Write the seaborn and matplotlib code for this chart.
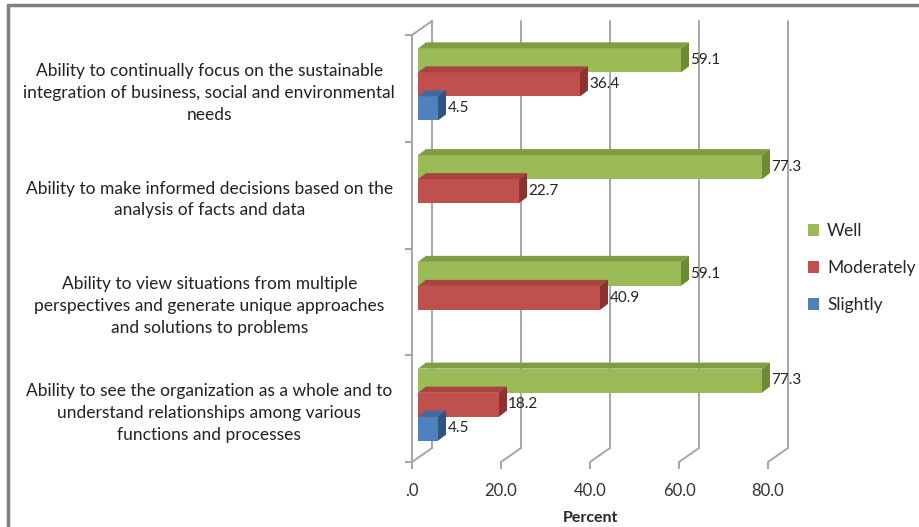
import pandas as pd
import matplotlib.pyplot as plt
import seaborn as sns
from matplotlib.patches import Polygon
from matplotlib.lines import Line2D
import matplotlib.transforms as mtransforms

abilities = [
    "Ability to continually focus on the sustainable\nintegration of business, social and environmental\nneeds",
    "Ability to make informed decisions based on the\nanalysis of facts and data",
    "Ability to view situations from multiple\nperspectives and generate unique approaches\nand solutions to problems",
    "Ability to see the organization as a whole and to\nunderstand relationships among various\nfunctions and processes",
]
levels = ["Well", "Moderately", "Slightly"]
well = [59.1, 77.3, 59.1, 77.3]
moderately = [36.4, 22.7, 40.9, 18.2]
slightly = [4.5, None, None, 4.5]
x_ticks = [0, 20, 40, 60, 80]
x_ticklabels = [".0", "20.0", "40.0", "60.0", "80.0"]

colors = {"Well": "#9BBB59", "Moderately": "#C0504D", "Slightly": "#4F81BD"}
side_colors = {"Well": "#6E8A35", "Moderately": "#8C3331", "Slightly": "#2E5481"}
top_colors = {"Well": "#7F9E44", "Moderately": "#A84340", "Slightly": "#3E6AA0"}

rows = []
for lvl, vals in zip(levels, [well, moderately, slightly]):
    for ab, v in zip(abilities, vals):
        if v is not None:
            rows.append({"ability": ab, "level": lvl, "value": v})
df = pd.DataFrame(rows)

sns.set_style("white")
plt.rcParams["font.family"] = ["Lato", "DejaVu Sans"]

fig = plt.figure(figsize=(9.2, 5.27), dpi=100)
ax = fig.add_axes([412 / 920, 65 / 527, 356 / 920, 427 / 527])

sns.barplot(data=df, y="ability", x="value", hue="level", order=abilities,
            hue_order=levels, palette=colors, orient="h", width=0.675,
            errorbar=None, ax=ax, saturation=1, linewidth=0, zorder=3)

ax.set_xlim(0, 80)
ax.set_ylim(3.5, -0.5)

# pixel -> data scale for the fake 3d effect
px_x = 80 / 356
px_y = 4 / 427

def shift(dx_px, dy_px):
    return mtransforms.ScaledTranslation(dx_px / 100, dy_px / 100, fig.dpi_scale_trans)

# back wall gridlines and floor
back = ax.get_xaxis_transform() + shift(20, 14)
for t in x_ticks:
    ax.plot([t, t], [0, 1], color="#A6A6A6", lw=1.4, transform=back, zorder=1, clip_on=False)
    ax.plot([t, t + 20 * px_x], [3.5, 3.5 - 14 * px_y], color="#A6A6A6", lw=1.4,
            zorder=1, clip_on=False)
ax.plot([0, 20 * px_x], [-0.5, -0.5 - 14 * px_y], color="#A6A6A6", lw=1.4, zorder=1, clip_on=False)

# 3d bars: shift front face and add top and side faces
bdx, bdy = 6, 4
ddx, ddy = 8, 6
for cont, lvl in zip(ax.containers, levels):
    for p in cont.patches:
        p.set_transform(ax.transData + shift(bdx, bdy))
        x0 = p.get_x()
        w = p.get_width()
        y0 = p.get_y()
        h = p.get_height()
        ytop, ybot = y0, y0 + h
        x1 = x0 + w
        ox, oy = bdx * px_x, -bdy * px_y
        dx, dy = ddx * px_x, -ddy * px_y
        top = Polygon([(x0 + ox, ytop + oy), (x1 + ox, ytop + oy),
                       (x1 + ox + dx, ytop + oy + dy), (x0 + ox + dx, ytop + oy + dy)],
                      closed=True, facecolor=top_colors[lvl], edgecolor="none",
                      zorder=3, clip_on=False)
        side = Polygon([(x1 + ox, ytop + oy), (x1 + ox + dx, ytop + oy + dy),
                        (x1 + ox + dx, ybot + oy + dy), (x1 + ox, ybot + oy)],
                       closed=True, facecolor=side_colors[lvl], edgecolor="none",
                       zorder=3, clip_on=False)
        ax.add_patch(top)
        ax.add_patch(side)
    labels = ax.bar_label(cont, fmt="%.1f", fontsize=11, color="#222222", zorder=4)
    for lbl in labels:
        lbl.xyann = (11, 3)

# axes frame
for s in ["top", "right", "bottom"]:
    ax.spines[s].set_visible(False)
ax.spines["left"].set_color("#A6A6A6")
ax.spines["left"].set_linewidth(1.4)

ax.set_xticks(x_ticks)
ax.set_xticklabels(x_ticklabels)
ax.tick_params(axis="x", length=5, width=1.4, color="#A6A6A6", direction="out",
               labelsize=12, labelcolor="#333333", pad=10, bottom=True)
ax.set_yticks(range(len(abilities)))
ax.set_yticklabels(abilities, ha="center", multialignment="center", linespacing=1.45)
ax.set_yticks([-0.5, 0.5, 1.5, 2.5, 3.5], minor=True)
ax.tick_params(axis="y", which="major", length=0, pad=146, labelsize=12.5, labelcolor="#222222")
ax.tick_params(axis="y", which="minor", length=5, width=1.4, color="#A6A6A6", left=True)

ax.set_ylabel("")
ax.set_xlabel("Percent", fontsize=11.5, fontweight="bold", labelpad=9)

ax.legend(loc="center left", bbox_to_anchor=(808 / 920, 1 - 268 / 527), bbox_transform=fig.transFigure,
          frameon=False, fontsize=12.5, handlelength=0.65, handleheight=0.65,
          handletextpad=0.45, labelspacing=1.2, borderpad=0, borderaxespad=0)

# chart border (top and left only, as cropped)
fig.add_artist(Line2D([8 / 920, 1], [1 - 5 / 527, 1 - 5 / 527], color="#808080", lw=2.5,
                      transform=fig.transFigure))
fig.add_artist(Line2D([8 / 920, 8 / 920], [0, 1 - 5 / 527], color="#808080", lw=2.5,
                      transform=fig.transFigure))

fig.savefig("out.png", dpi=100)
